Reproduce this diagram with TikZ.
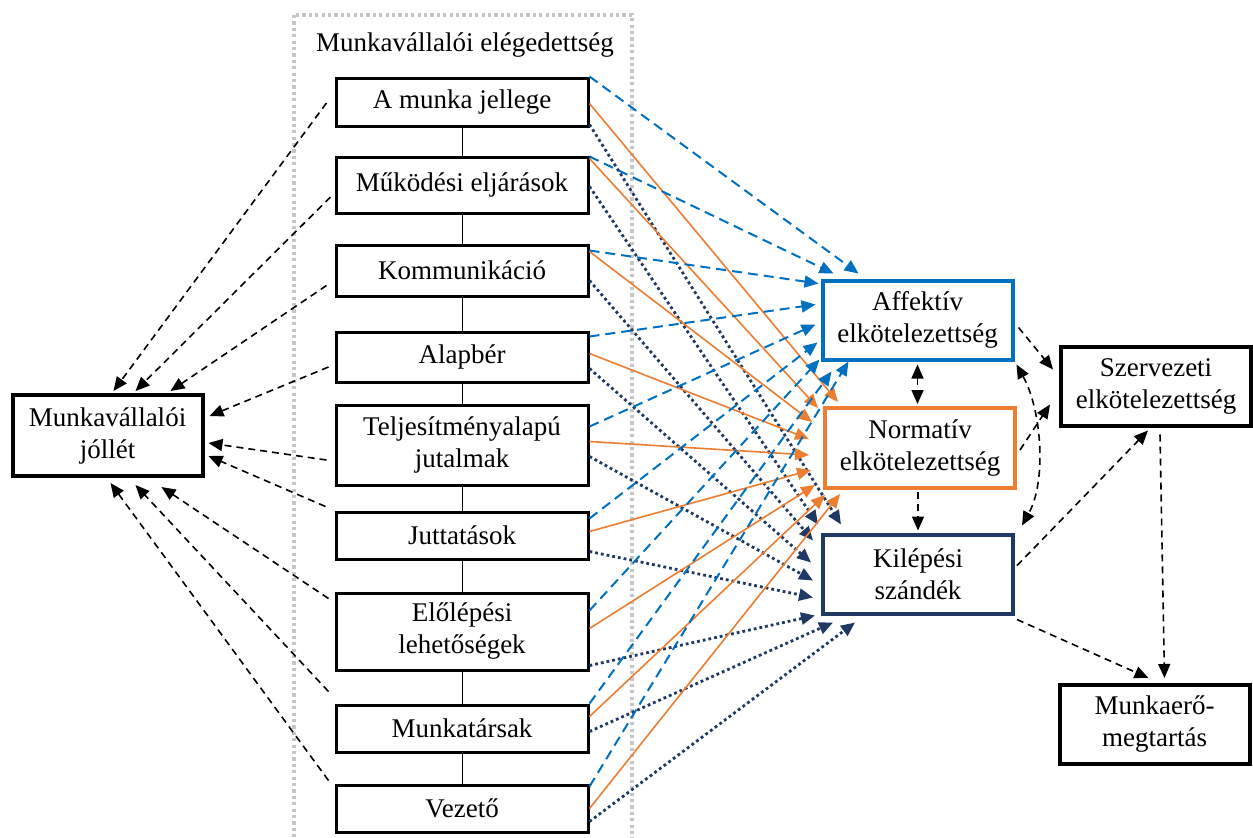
\documentclass[tikz,border=0pt]{standalone}
\usepackage{fontspec}
\setmainfont{Liberation Serif}
\usetikzlibrary{arrows.meta,calc}
\definecolor{kek}{RGB}{0,112,192}
\definecolor{narancs}{RGB}{237,125,49}
\definecolor{sotet}{RGB}{32,56,100}

\begin{document}
\begin{tikzpicture}[x=0.5pt,y=-0.5pt,
  font=\fontsize{13.5}{16}\selectfont,
  >={Triangle[length=7pt,width=6pt]},
  doboz/.style={draw,line width=1.5pt,inner sep=0pt,align=center,minimum width=126pt},
  nagydoboz/.style={draw,line width=2pt,inner sep=0pt,align=center,minimum width=95pt,minimum height=39.5pt},
  fekete/.style={->,line width=0.8pt,dash pattern=on 3.5pt off 2.5pt},
  kekny/.style={->,kek,line width=1pt,dash pattern=on 5pt off 3pt},
  narny/.style={->,narancs,line width=0.8pt},
  sotny/.style={->,sotet,line width=1.4pt,dash pattern=on 1.4pt off 1.5pt}]
\useasboundingbox (0,0) rectangle (1253,837);
\draw[gray!45,line width=1.6pt,dash pattern=on 1.6pt off 1.6pt] (294,15) rectangle (632,870);
\node (cim) at (465,45) {Munkavállalói elégedettség};
% elegedettseg tenyezoi
\node[doboz,minimum height=24pt] (jelleg) at (462,102) {A munka jellege};
\node[doboz,minimum height=28pt] (mukod) at (462,185) {Működési eljárások};
\node[doboz,minimum height=25.5pt] (komm) at (462,270.5) {Kommunikáció};
\node[doboz,minimum height=25pt] (alapber) at (462,357) {Alapbér};
\node[doboz,minimum height=40pt] (teljes) at (462,445) {Teljesítményalapú\\jutalmak};
\node[doboz,minimum height=23.5pt] (juttat) at (462,535.5) {Juttatások};
\node[doboz,minimum height=38.5pt] (elolep) at (462,631.5) {Előlépési\\lehetőségek};
\node[doboz,minimum height=23.5pt] (munkat) at (462,728.5) {Munkatársak};
\node[doboz,minimum height=23.5pt] (vezeto) at (462,808.5) {Vezető};
\foreach \a/\b in {jelleg/mukod,mukod/komm,komm/alapber,alapber/teljes,teljes/juttat,juttat/elolep,elolep/munkat,munkat/vezeto}
  \draw[line width=0.5pt] (\a) -- (\b);
% kimenetek
\node[nagydoboz,minimum height=40.5pt] (jollet) at (107.5,435.5) {Munkavállalói\\jóllét};
\node[nagydoboz,draw=kek] (aff) at (917.5,320) {Affektív\\elkötelezettség};
\node[nagydoboz,draw=narancs,minimum height=40pt] (norm) at (920,448) {Normatív\\elkötelezettség};
\node[nagydoboz,draw=sotet] (kil) at (918,574) {Kilépési\\szándék};
\node[nagydoboz] (szerv) at (1156,386) {Szervezeti\\elkötelezettség};
\node[nagydoboz] (megtart) at (1154.5,724.5) {Munkaerő-\\megtartás};
% jollet fele
\foreach \m/\a/\sx/\sy/\t/\tx/\ty in {jelleg/west/-8/1/north west/103/-2,
    mukod/west/-4/12/north west/125/-2, komm/west/-8/15/north west/160/-2,
    alapber/west/-6/10/north east/5/23, teljes/west/-8/15/north east/4/50,
    juttat/north west/-9/-4/north east/4/63, elolep/north west/-6/7/south west/151/9,
    munkat/north west/-6/-12/south west/125/7, vezeto/north west/-6/-3/south west/100/5}
  \draw[fekete] ($(\m.\a)+(\sx,\sy)$) -- ($(jollet.\t)+(\tx,\ty)$);
% elkotelezettseg es kilepes fele
\foreach \m/\sb/\so/\sn/\bx/\by/\ox/\oy/\nx/\ny in {
    jelleg/0/27/48/38/-5/15/-4/20/-8,
    mukod/1/3/31/13/-5/-5/2/-3/-8,
    komm/7/8/37/-2/5/-11/16/-8/8,
    alapber/6/23/38/-5/26/-14/33/-10/30,
    teljes/23/38/53/-5/46/-14/49/-8/48,
    juttat/8/21/41/-3/64/-12/64/-8/65,
    elolep/19/37/74/-1/81/-8/79/-6/83,
    munkat/0/13/28/11/93/2/89/12/90,
    vezeto/3/25/38/28/83/17/88/34/90}
{
  \draw[kekny] ($(\m.north east)+(0,\sb)$) -- ($(aff.north west)+(\bx,\by)$);
  \draw[narny] ($(\m.north east)+(0,\so)$) -- ($(norm.north west)+(\ox,\oy)$);
  \draw[sotny] ($(\m.north east)+(0,\sn)$) -- ($(kil.north west)+(\nx,\ny)$);
}
% jobb oldal
\draw[fekete,<->] ($(aff.south)+(0,3)$) -- ($(aff.south |- norm.north)+(0,-2)$);
\draw[fekete] ($(norm.south)+(-2,2)$) -- ($(norm.south |- kil.north)+(-2,-2)$);
\draw[fekete,<->] ($(aff.south east)+(2,3)$) .. controls +(25,45) and +(25,-45) .. ($(kil.north east)+(7,-7)$);
\draw[fekete] ($(aff.north east)+(4,49)$) -- ($(szerv.north west)+(-6,25)$);
\draw[fekete] ($(norm.north east)+(3,44)$) -- ($(szerv.north west)+(-9,60)$);
\draw[fekete] ($(kil.north east)+(2,33)$) -- ($(szerv.south)+(-8,3)$);
\draw[fekete] ($(szerv.south)+(4,7)$) -- ($(megtart.north)+(10,-5)$);
\draw[fekete] ($(kil.south east)+(2,4)$) -- ($(megtart.north)+(-6,-5)$);
\end{tikzpicture}
\end{document}
